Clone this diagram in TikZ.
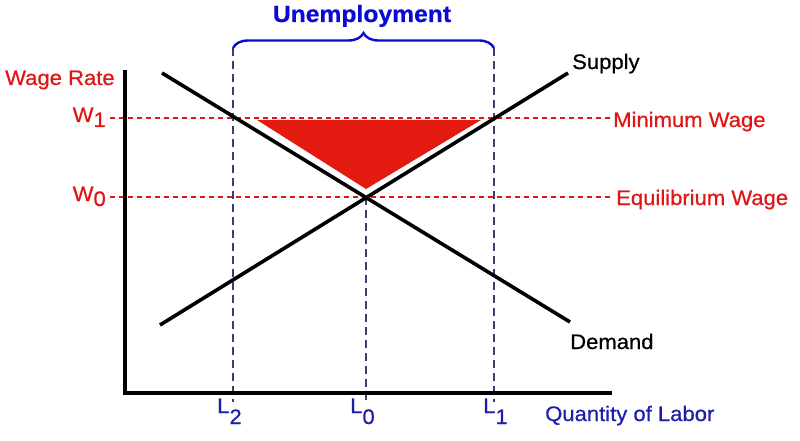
\documentclass[tikz,border=0pt]{standalone}
\usepackage{fontspec}
\setmainfont{Liberation Sans}[FakeStretch=1.05, FakeBold=0.6]
\usetikzlibrary{decorations.pathreplacing}
\definecolor{wred}{RGB}{222,22,22}
\definecolor{tri}{RGB}{226,26,16}
\definecolor{ublue}{RGB}{10,10,210}
\definecolor{lblue}{RGB}{30,30,170}
\definecolor{navy}{RGB}{60,60,110}
\tikzset{
  curve/.style={line width=3.6pt, black},
  axisline/.style={line width=4pt, black},
  reddash/.style={wred, line width=1.1pt, dash pattern=on 5pt off 4pt},
  navydash/.style={navy, line width=1.2pt, dash pattern=on 8pt off 5pt},
  redlbl/.style={text=wred, inner sep=0pt, font=\fontsize{21}{24}\selectfont},
  blklbl/.style={text=black, inner sep=0pt, font=\fontsize{21}{24}\selectfont},
  bluelbl/.style={text=lblue, inner sep=0pt, font=\fontsize{21}{24}\selectfont},
}
\begin{document}
\begin{tikzpicture}[x=1pt,y=-1pt]
\useasboundingbox (0,0) rectangle (800,441);
% key coordinates
\coordinate (O) at (125,393);
\coordinate (ytop) at (125,72);
\coordinate (xend) at (610,393);
\coordinate (dA) at (162,73);
\coordinate (dB) at (570,322);
\coordinate (sA) at (160,325);
\coordinate (sB) at (568,73);
\coordinate (E) at (366,197);
% red triangle
\fill[tri] (257,120) -- (481,120) -- (366,189) -- cycle;
% dashed guides
\coordinate (w1s) at (110,118);
\coordinate (w1e) at (610,118);
\coordinate (w0s) at (110,197);
\coordinate (w0e) at (610,197);
\draw[reddash] (w1s) -- (w1e);
\draw[reddash] (w0s) -- (w0e);
\coordinate (l2t) at (233,48);
\coordinate (l2b) at (233,402);
\coordinate (l1t) at (494,48);
\coordinate (l1b) at (494,402);
\coordinate (l0b) at (366,402);
\draw[navydash] (l2t) -- (l2b);
\draw[navydash] (l1t) -- (l1b);
\draw[navydash] (E) -- (l0b);
% brace
\draw[ublue, line width=2.4pt, decorate, decoration={brace, amplitude=15pt}] (l2t) -- (l1t);
% axes
\draw[axisline, line cap=rect] (ytop) -- (O) -- (xend);
% curves
\draw[curve] (dA) -- (dB);
\draw[curve] (sA) -- (sB);
% labels
\node[anchor=base, inner sep=0pt, text=ublue, font=\bfseries\fontsize{23.5}{26}\selectfont] (unemp) at (362,22) {Unemployment};
\node[redlbl, anchor=base west] (wrate) at (5,85) {Wage Rate};
\node[redlbl, anchor=base east] (w1) at (106,122) {W\raisebox{-5pt}{1}};
\node[redlbl, anchor=base east] (w0) at (106,201) {W\raisebox{-5pt}{0}};
\node[redlbl, anchor=base west] (minw) at (613,127) {Minimum Wage};
\node[redlbl, anchor=base west] (eqw) at (616,205) {Equilibrium Wage};
\node[blklbl, anchor=base west] (supply) at (572,69) {Supply};
\node[blklbl, anchor=base west] (demand) at (570,349) {Demand};
\node[bluelbl, anchor=base west] (l2) at (217,413) {L\raisebox{-11pt}{2}};
\node[bluelbl, anchor=base west] (l0) at (350,413) {L\raisebox{-11pt}{0}};
\node[bluelbl, anchor=base west] (l1) at (483,413) {L\raisebox{-11pt}{1}};
\node[bluelbl, anchor=base west] (qlab) at (545,421) {Quantity of Labor};
\end{tikzpicture}
\end{document}
